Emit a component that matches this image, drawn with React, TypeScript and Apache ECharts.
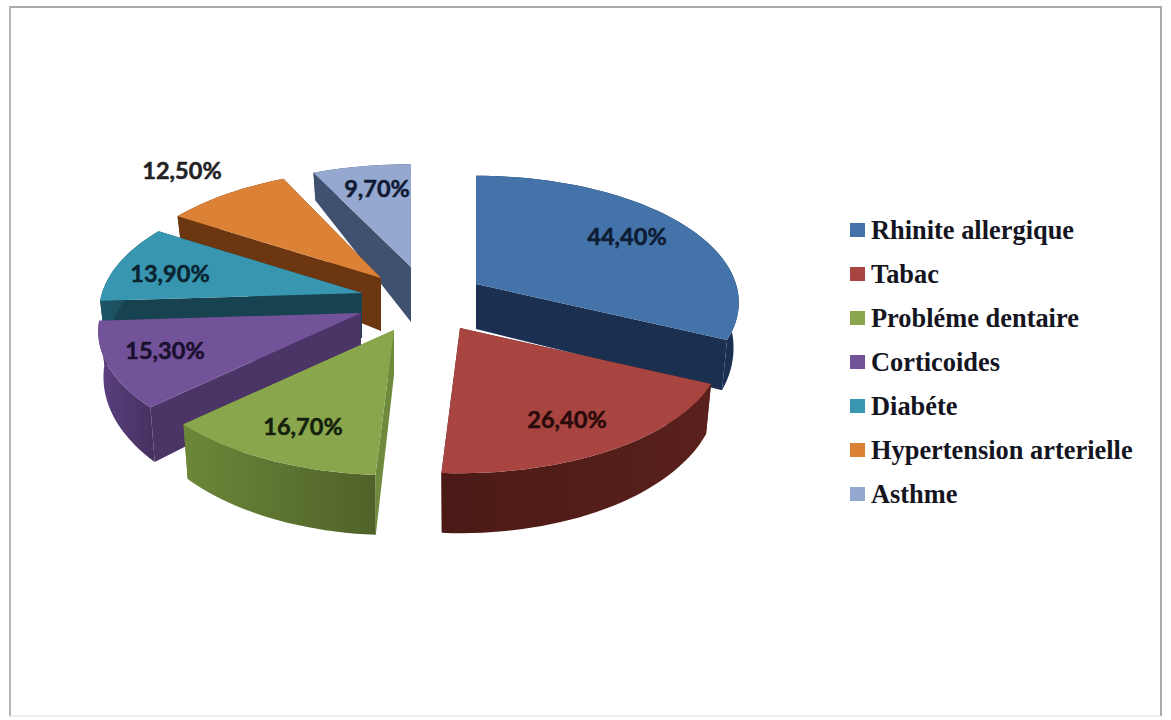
import React, { useEffect, useRef } from "react";
import * as echarts from "echarts";

const categories = ["Rhinite allergique", "Tabac", "Probléme dentaire", "Corticoides", "Diabéte", "Hypertension arterielle", "Asthme"];
const values = [44.4, 26.4, 16.7, 15.3, 13.9, 12.5, 9.7];

const topColors = ["#4473a9", "#a84541", "#8aa64c", "#72539a", "#3996b0", "#dc8237", "#94a8d0"];
const wallColors = ["#1b2f50", "#4f1c18", "#6f8a3c", "#4a3566", "#16434f", "#6c3610", "#40506f"];
const rimColors: [string, string][] = [
  ["#1b2f50", "#1b2f50"],
  ["#4b1a16", "#5a201c"],
  ["#6d8739", "#4f6229"],
  ["#5b4080", "#45315f"],
  ["#1d5566", "#16434f"],
  ["#6c3610", "#6c3610"],
  ["#40506f", "#40506f"],
];
const labelColors = ["#0e1c33", "#2a0a0a", "#13200c", "#1a0f2e", "#0a2530", "#222222", "#101a33"];

// layout: exploded slice apexes, apex wall depth, vertical squash, label centres, paint order
const apexes = [[476, 284], [460, 328], [394, 330], [361, 313], [362, 293], [381, 278], [411, 267]];
const apexDepths = [45, 45, 45, 45, 45, 53, 55];
const squash = [1, 1, 1, 1, 1, 1, 0.95];
const labelCentres = [[627, 236], [567, 419], [303, 426], [165, 350], [170, 273], [182, 170], [377, 188]];
const paintOrder = [5, 6, 4, 3, 2, 1, 0];

const R = 260;
const Q = 124;
const P = 0.146;
const BASE_SHRINK = 0.98;
const total = values.reduce((a, b) => a + b, 0);

function rimDepth(Y: number) {
  return 43 + 17 * Y;
}
function project(i: number, deg: number): { x: number; y: number; Y: number } {
  const apex = apexes[i];
  const t = (deg * Math.PI) / 180;
  const X = Math.sin(t);
  const Y = -Math.cos(t);
  const f = 1 / (1 - P * Y);
  return { x: apex[0] + X * R * f, y: apex[1] + Y * Q * f * squash[i], Y };
}

function makeRender(i: number) {
  return () => {
    const before = values.slice(0, i).reduce((a, b) => a + b, 0);
    const a0 = (before / total) * 360;
    const a1 = ((before + values[i]) / total) * 360;
    const apex = apexes[i];
    const dA = apexDepths[i];
    const n = Math.max(2, Math.ceil((a1 - a0) / 2));
    const rim = [];
    for (let k = 0; k <= n; k++) rim.push(project(i, a0 + ((a1 - a0) * k) / n));
    const top = rim.map((p) => [p.x, p.y]);
    const bottom = rim.map((p) => [apex[0] + (p.x - apex[0]) * BASE_SHRINK, p.y + rimDepth(p.Y)]);
    const apexLow = [apex[0], apex[1] + dA];
    const first = top[0];
    const last = top[top.length - 1];
    const radial = (a: number[], b: number[], c: number[]) => ({
      type: "polygon",
      shape: { points: [apex, a, b, c] },
      style: { fill: wallColors[i] },
    });
    return {
      type: "group",
      children: [
        radial(first, bottom[0], apexLow),
        radial(last, bottom[bottom.length - 1], apexLow),
        {
          type: "polygon",
          shape: { points: [...top, ...bottom.slice().reverse()] },
          style: {
            fill: new echarts.graphic.LinearGradient(0, 0, 1, 0, [
              { offset: 0, color: rimColors[i][0] },
              { offset: 1, color: rimColors[i][1] },
            ]),
          },
        },
        {
          type: "polygon",
          shape: { points: [apex, ...top] },
          style: { fill: topColors[i] },
        },
        {
          type: "text",
          x: labelCentres[i][0],
          y: labelCentres[i][1],
          style: {
            text: values[i].toFixed(2).replace(".", ",") + "%",
            fill: labelColors[i],
            stroke: labelColors[i],
            lineWidth: 0.5,
            font: 'bold 23.5px Lato, "Noto Sans", sans-serif',
            align: "center",
            verticalAlign: "middle",
          },
        },
      ],
    };
  };
}

export default function App() {
  const ref = useRef<HTMLDivElement>(null);
  useEffect(() => {
    const chart = echarts.init(ref.current!, undefined, { renderer: "svg" });
    chart.setOption({
      animation: false,
      backgroundColor: "#ffffff",
      legend: {
        data: categories,
        orient: "vertical",
        left: 845,
        top: 212,
        itemWidth: 15,
        itemHeight: 14,
        itemGap: 18,
        icon: "rect",
        textStyle: {
          fontFamily: '"Liberation Serif", serif',
          fontWeight: "bold",
          fontSize: 26.4,
          lineHeight: 22,
          color: "#15151f",
          padding: [0, 0, 0, 1],
        },
      },
      graphic: [
        { type: "line", shape: { x1: 9, y1: 7, x2: 1162, y2: 7 }, style: { stroke: "#a9a9a9", lineWidth: 2 } },
        { type: "line", shape: { x1: 10, y1: 6, x2: 10, y2: 716 }, style: { stroke: "#b4b4b4", lineWidth: 2 } },
        { type: "line", shape: { x1: 1161, y1: 6, x2: 1161, y2: 716 }, style: { stroke: "#a9a9a9", lineWidth: 2 } },
        { type: "line", shape: { x1: 10, y1: 716, x2: 1161, y2: 716 }, style: { stroke: "#dcdcdc", lineWidth: 1 } },
      ],
      series: categories.map((name, i) => ({
        type: "custom",
        name,
        coordinateSystem: "none",
        z: 2 + paintOrder[i],
        silent: true,
        itemStyle: { color: topColors[i] },
        data: [[values[i]]],
        renderItem: makeRender(i),
      })),
    });
    return () => chart.dispose();
  }, []);
  return <div ref={ref} style={{ position: "fixed", left: 0, top: 0, width: 1171, height: 720 }} />;
}
